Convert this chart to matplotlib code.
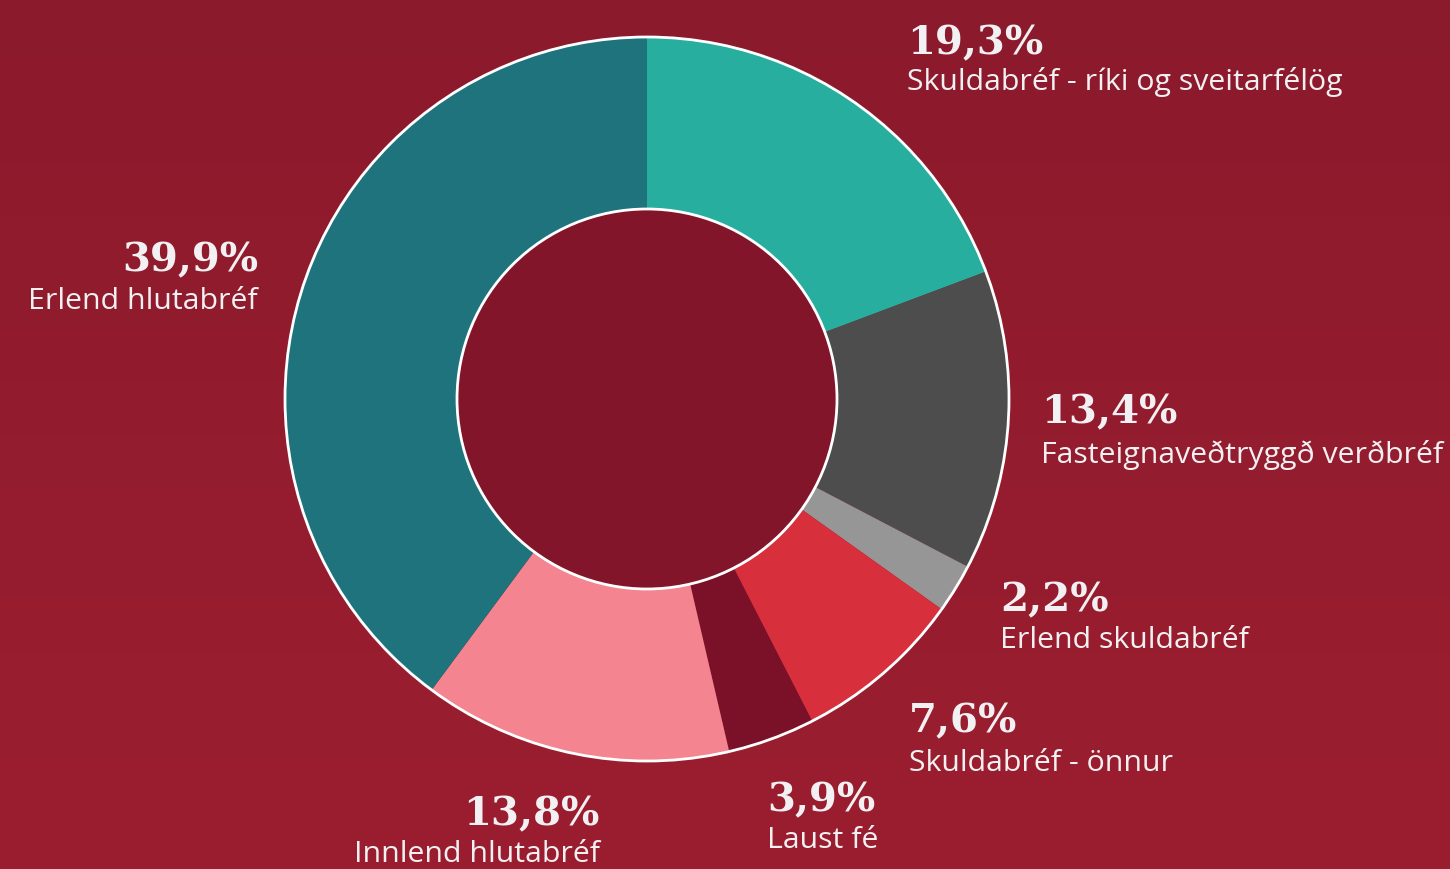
import numpy as np
import matplotlib.pyplot as plt
from matplotlib.patches import Circle
from matplotlib.colors import LinearSegmentedColormap

# shares, clockwise from 12 o'clock
labels = ['Skuldabréf - ríki og sveitarfélög', 'Fasteignaveðtryggð verðbréf',
          'Erlend skuldabréf', 'Skuldabréf - önnur', 'Laust fé',
          'Innlend hlutabréf', 'Erlend hlutabréf']
values = [19.3, 13.4, 2.2, 7.6, 3.9, 13.8, 39.9]
pct_text = ['19,3%', '13,4%', '2,2%', '7,6%', '3,9%', '13,8%', '39,9%']
colors = ['#27ae9e', '#4d4d4d', '#969696', '#d72f3c', '#7a1128', '#f4848f', '#1f737c']

W, H = 1450, 869
fig = plt.figure(figsize=(W / 100, H / 100), dpi=100)

# background gradient
bg = fig.add_axes([0, 0, 1, 1])
grad = np.linspace(0, 1, 256).reshape(-1, 1)
cmap = LinearSegmentedColormap.from_list('bg', ['#8b1a2c', '#9b1e30'])
bg.imshow(grad, aspect='auto', cmap=cmap, extent=[0, 1, 0, 1], origin='upper')
bg.axis('off')

ax = fig.add_axes([0, 0, 1, 1])
ax.patch.set_alpha(0)

cx, cy = 647, H - 399
r_out, r_in = 362, 190
ax.pie(values, colors=colors, startangle=90, counterclock=False,
       center=(cx, cy), radius=r_out, frame=True,
       wedgeprops=dict(width=r_out - r_in, edgecolor='none', linewidth=0))
ax.set_xlim(0, W)
ax.set_ylim(0, H)
ax.set_aspect('equal')
ax.axis('off')
ax.add_patch(Circle((cx, cy), r_out, facecolor='none', edgecolor='white', lw=2, zorder=3))
ax.add_patch(Circle((cx, cy), r_in, facecolor='#82152a', edgecolor='white', lw=2, zorder=3))

# label anchors in pixels: (x, pct baseline, label baseline, align)
pos = [(907, 54, 90, 'left'),
       (1041, 423, 463, 'left'),
       (1000, 611, 648, 'left'),
       (909, 732, 771, 'left'),
       (767, 811, 848, 'left'),
       (600, 825, 862, 'right'),
       (258, 271, 309, 'right')]

for (x, yp, yl, ha), p, lab in zip(pos, pct_text, labels):
    ax.text(x, H - yp, p, ha=ha, va='baseline', color='#f2f0f2',
            fontsize=29, fontweight='bold', family='DejaVu Serif')
    ax.text(x, H - yl, lab, ha=ha, va='baseline', color='#f2f0f2',
            fontsize=21.8, family='Open Sans')

fig.savefig('out.png', dpi=100)
